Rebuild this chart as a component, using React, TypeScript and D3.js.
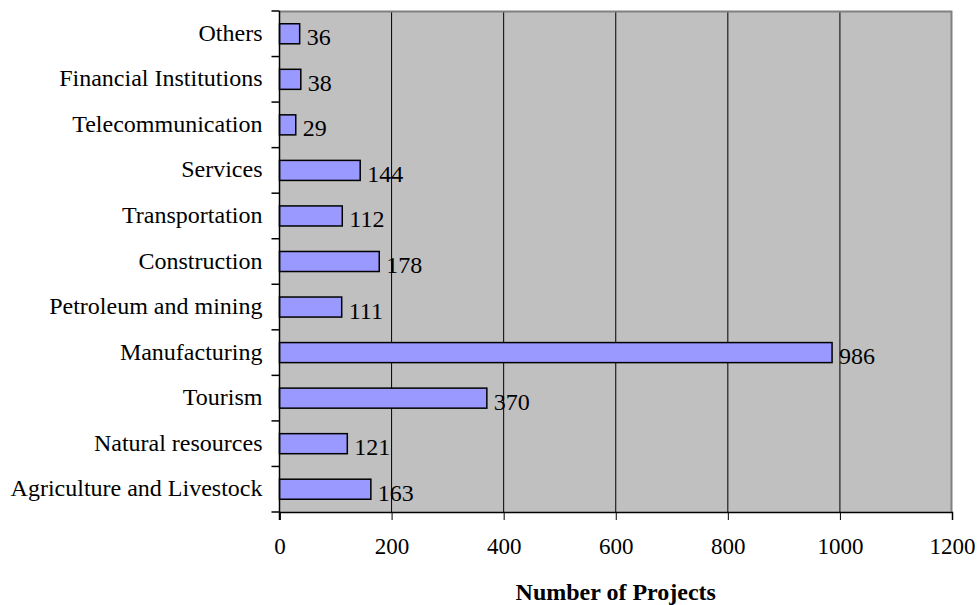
import * as d3 from "d3";
import React, { useRef, useEffect } from "react";

const categories = [
  "Agriculture and Livestock",
  "Natural resources",
  "Tourism",
  "Manufacturing",
  "Petroleum and mining",
  "Construction",
  "Transportation",
  "Services",
  "Telecommunication",
  "Financial Institutions",
  "Others",
];
const projects = [163, 121, 370, 986, 111, 178, 112, 144, 29, 38, 36];
const xTicks = [0, 200, 400, 600, 800, 1000, 1200];

const W = 979;
const H = 605;
let margin = { top: 11, right: 27, bottom: 93, left: 279.5 };
const FONT = "'Liberation Serif', 'Times New Roman', serif";

function App() {
  const ref = useRef<SVGSVGElement>(null);

  useEffect(() => {
    const svg = d3.select(ref.current);
    svg.selectAll("*").remove();
    const width = W - margin.left - margin.right;
    const height = H - margin.top - margin.bottom;

    const g = svg
      .append("g")
      .attr("transform", "translate(" + margin.left + "," + margin.top + ")");

    const x = d3.scaleLinear().domain([0, 1200]).range([0, width]);
    // categories bottom-up like the original
    const y = d3
      .scaleBand()
      .domain(categories.slice().reverse())
      .range([0, height])
      .paddingInner(0.56)
      .paddingOuter(0.28);
    const band = d3.scaleBand().domain(categories.slice().reverse()).range([0, height]);

    // plot background
    g.append("rect")
      .attr("width", width)
      .attr("height", height)
      .attr("fill", "#c0c0c0");

    // grid lines
    g.selectAll(".grid")
      .data(xTicks.slice(1, -1))
      .enter()
      .append("line")
      .attr("x1", (d) => x(d))
      .attr("x2", (d) => x(d))
      .attr("y1", 0)
      .attr("y2", height)
      .attr("stroke", "#000")
      .attr("stroke-width", 1);

    // gray border top/right
    g.append("path")
      .attr("d", `M0,0.5H${width - 0.5}V${height}`)
      .attr("fill", "none")
      .attr("stroke", "#808080")
      .attr("stroke-width", 2);

    // bars
    g.selectAll(".bar")
      .data(projects)
      .enter()
      .append("rect")
      .attr("x", x(0))
      .attr("y", (d, i) => y(categories[i])!)
      .attr("width", (d) => x(d) - x(0))
      .attr("height", y.bandwidth())
      .attr("fill", "#9999ff")
      .attr("stroke", "#000")
      .attr("stroke-width", 1.5);

    // value labels
    g.selectAll(".val")
      .data(projects)
      .enter()
      .append("text")
      .attr("x", (d) => x(d) + 7)
      .attr("y", (d, i) => band(categories[i])! + band.bandwidth() / 2 + 11.5)
      .attr("font-family", FONT)
      .attr("font-size", 24)
      .attr("fill", "#000")
      .text((d) => d);

    // x axis
    const xAxis = g
      .append("g")
      .attr("transform", "translate(0," + height + ")")
      .call(
        d3.axisBottom(x).tickValues(xTicks).tickFormat(d3.format("d")).tickSize(8).tickPadding(18)
      );
    xAxis.select(".domain").attr("stroke", "#000").attr("stroke-width", 1.5);
    xAxis
      .selectAll("text")
      .attr("font-family", FONT)
      .attr("font-size", 23)
      .attr("fill", "#000");

    // y axis: ticks at band boundaries
    const yAxis = g.append("g");
    yAxis
      .append("line")
      .attr("x1", 0)
      .attr("x2", 0)
      .attr("y1", 0)
      .attr("y2", height + 8)
      .attr("stroke", "#000")
      .attr("stroke-width", 1.5);
    yAxis
      .selectAll(".ytick")
      .data(d3.range(categories.length + 1))
      .enter()
      .append("line")
      .attr("x1", -8)
      .attr("x2", 0)
      .attr("y1", (i) => i * band.step())
      .attr("y2", (i) => i * band.step())
      .attr("stroke", "#000")
      .attr("stroke-width", 1.5);
    yAxis
      .selectAll(".ylab")
      .data(categories)
      .enter()
      .append("text")
      .attr("x", -17)
      .attr("y", (d) => band(d)! + band.bandwidth() / 2 + 7)
      .attr("text-anchor", "end")
      .attr("font-family", FONT)
      .attr("font-size", 24)
      .attr("fill", "#000")
      .text((d) => d);

    // axis title
    g.append("text")
      .attr("x", width / 2)
      .attr("y", height + 88)
      .attr("text-anchor", "middle")
      .attr("font-family", FONT)
      .attr("font-size", 24)
      .attr("font-weight", "bold")
      .attr("fill", "#000")
      .text("Number of Projects");
  }, []);

  return (
    <div className="chart" style={{ position: "absolute", left: 0, top: 0 }}>
      <svg ref={ref} width={W} height={H} style={{ display: "block", background: "#fff" }}></svg>
    </div>
  );
}

export default App;
